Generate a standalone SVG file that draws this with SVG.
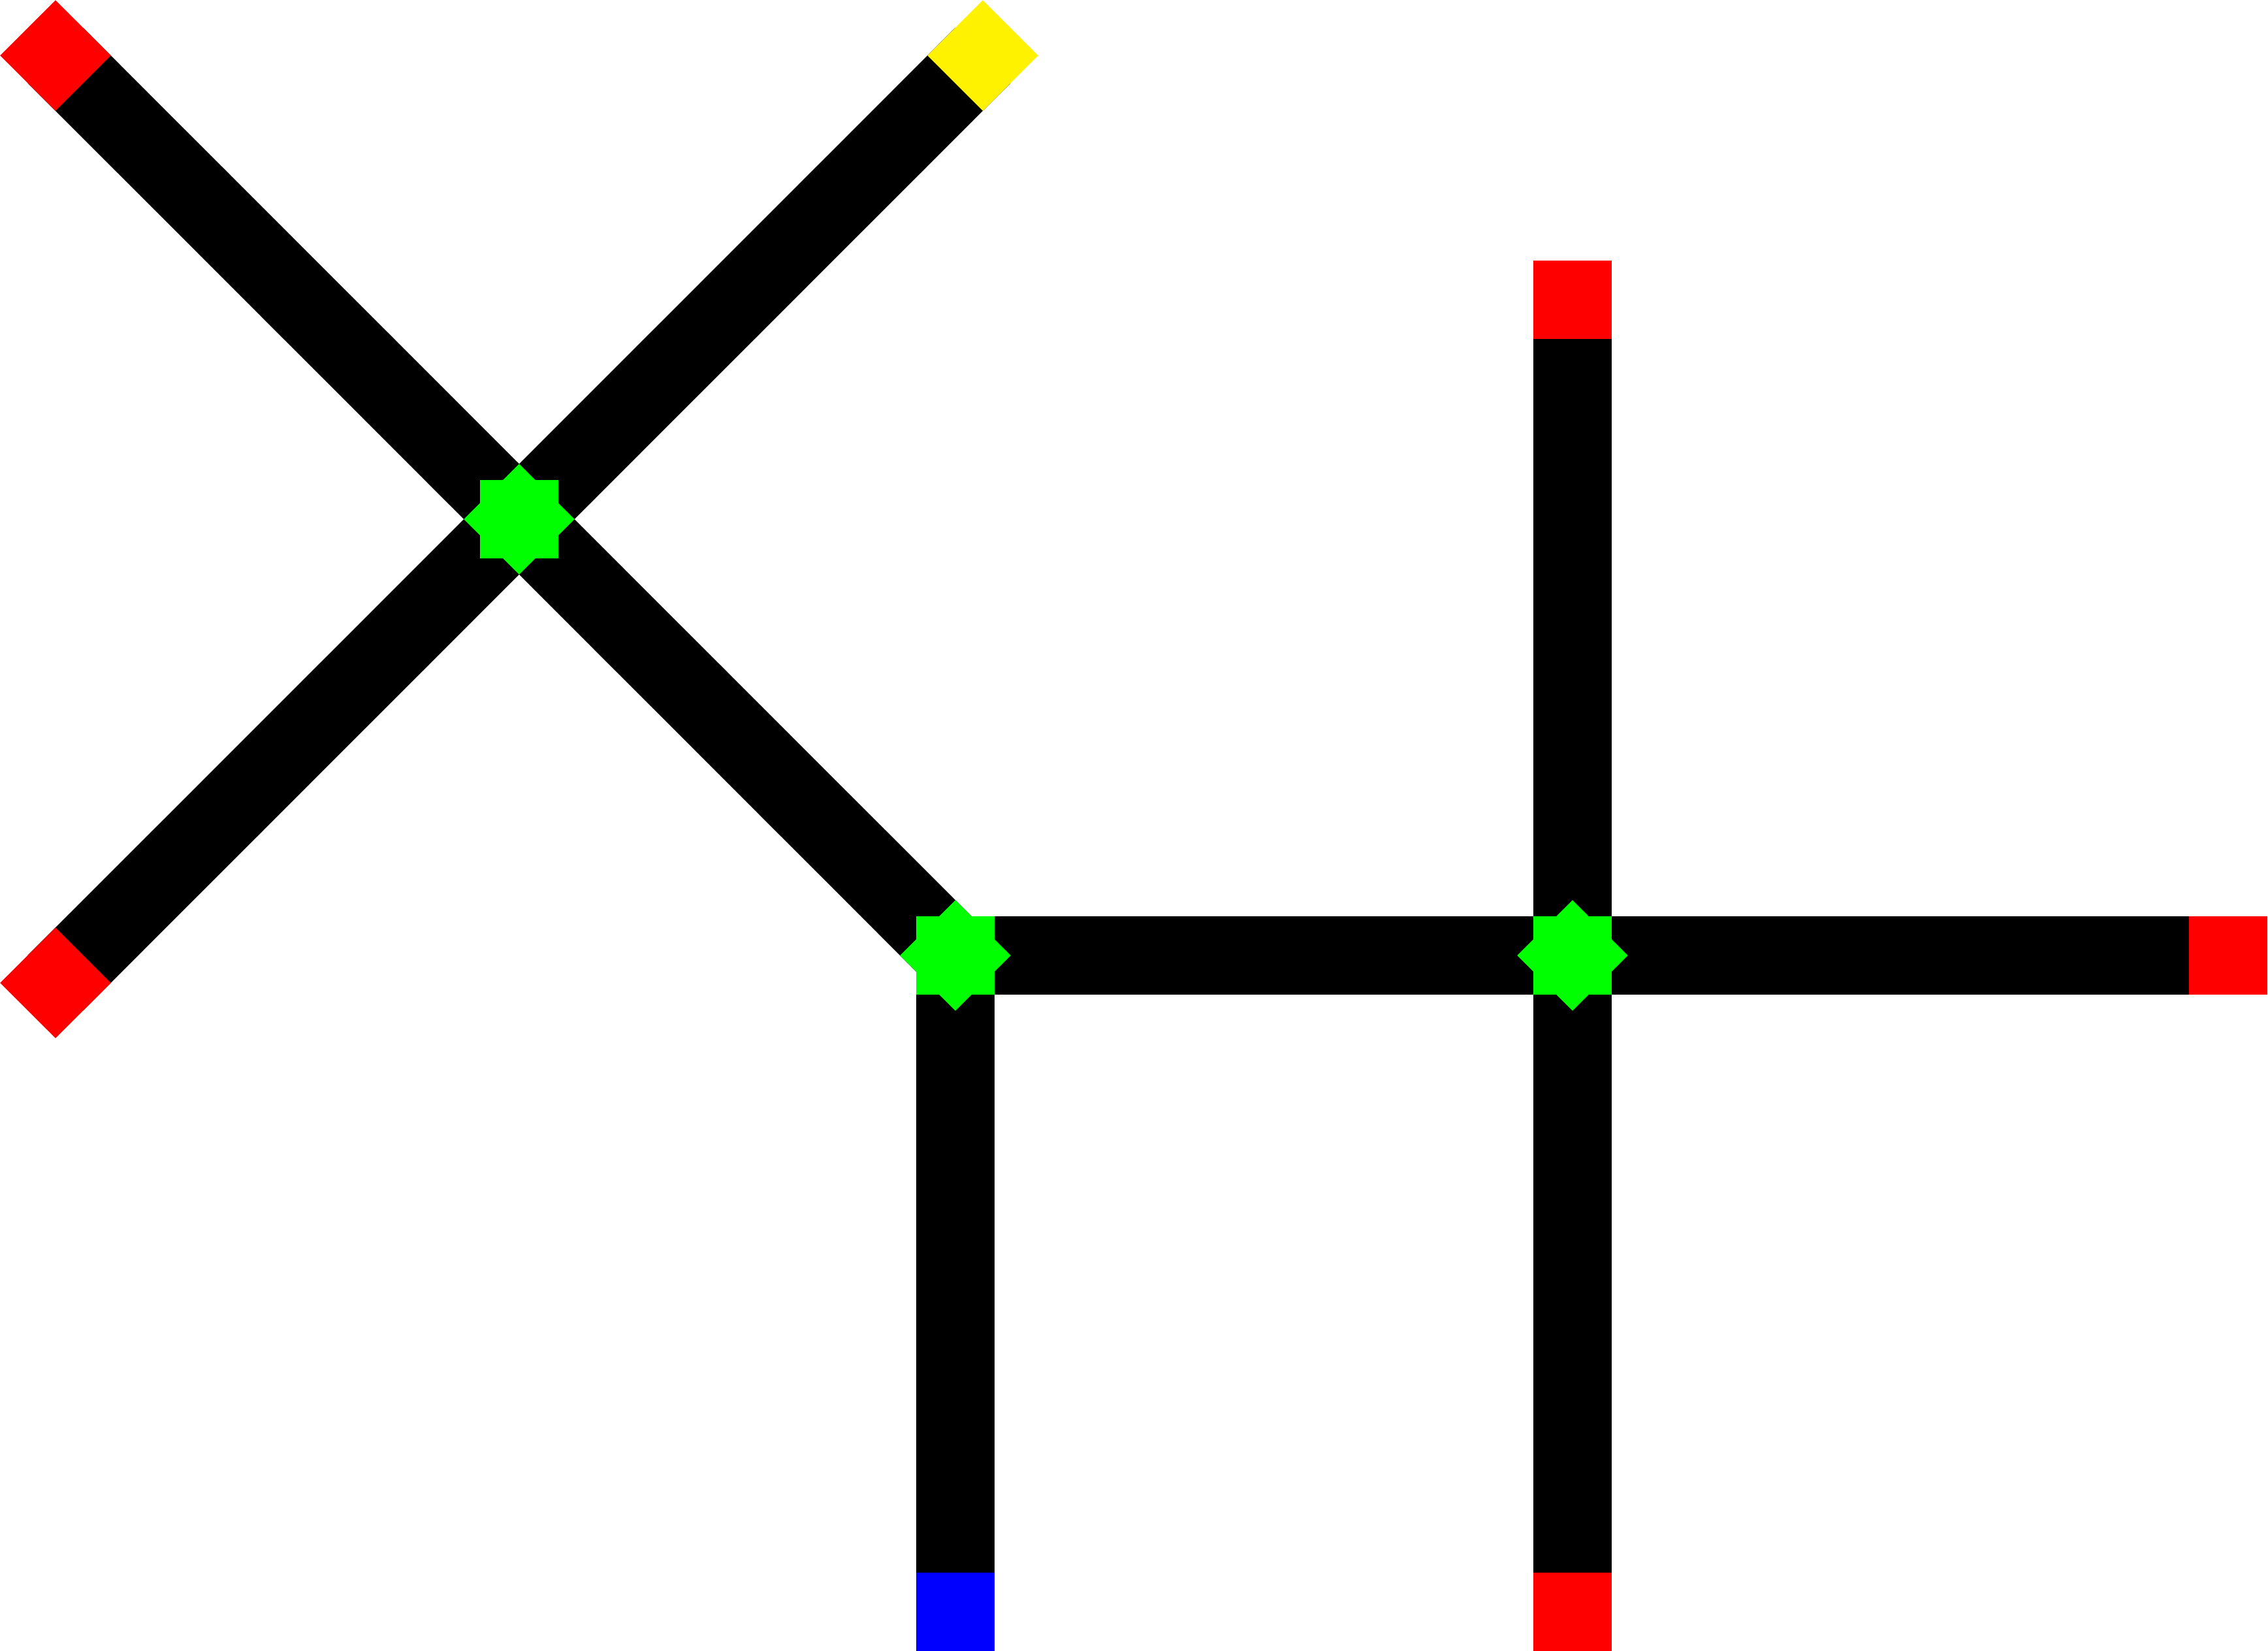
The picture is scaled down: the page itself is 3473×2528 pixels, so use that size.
<svg xmlns="http://www.w3.org/2000/svg" xmlns:xlink="http://www.w3.org/1999/xlink" width="3473" height="2528" viewBox="0 0 3473 2528">
  <style>
    .edge { stroke: #000000; stroke-width: 120; stroke-linecap: butt; fill: none; }
    .red { fill: #FF0000; }
    .yellow { fill: #FFF200; }
    .blue { fill: #0000FF; }
    .junction { fill: #00FF00; }
  </style>
  <defs>
    <polygon id="star" points="0,-84.85 24.85,-60 60,-60 60,-24.85 84.85,0 60,24.85 60,60 24.85,60 0,84.85 -24.85,60 -60,60 -60,24.85 -84.85,0 -60,-24.85 -60,-60 -24.85,-60"/>
    <rect id="cap" x="-60" y="-60" width="120" height="120"/>
  </defs>
  <rect x="0" y="0" width="3473" height="2528" fill="#FFFFFF"/>
  <g id="connectors">
    <line class="edge" x1="85" y1="85" x2="1463" y2="1463"/>
    <line class="edge" x1="85" y1="1505" x2="1505" y2="85"/>
    <line class="edge" x1="1463" y1="1463" x2="3412" y2="1463"/>
    <line class="edge" x1="1463" y1="1463" x2="1463" y2="2468"/>
    <line class="edge" x1="2408" y1="459" x2="2408" y2="2468"/>
  </g>
  <g id="end-top-left"><use xlink:href="#cap" class="red" transform="translate(85,85) rotate(45)"/></g>
  <g id="end-top-yellow"><use xlink:href="#cap" class="yellow" transform="translate(1505,85) rotate(45)"/></g>
  <g id="end-bottom-left"><use xlink:href="#cap" class="red" transform="translate(85,1505) rotate(45)"/></g>
  <g id="end-top-right"><use xlink:href="#cap" class="red" transform="translate(2408,459)"/></g>
  <g id="end-right"><use xlink:href="#cap" class="red" transform="translate(3412,1463)"/></g>
  <g id="end-bottom-blue"><use xlink:href="#cap" class="blue" transform="translate(1463,2468)"/></g>
  <g id="end-bottom-right"><use xlink:href="#cap" class="red" transform="translate(2408,2468)"/></g>
  <g id="junction-cross"><use xlink:href="#star" class="junction" transform="translate(795,795)"/></g>
  <g id="junction-middle"><use xlink:href="#star" class="junction" transform="translate(1463,1463)"/></g>
  <g id="junction-right"><use xlink:href="#star" class="junction" transform="translate(2408,1463)"/></g>
</svg>
